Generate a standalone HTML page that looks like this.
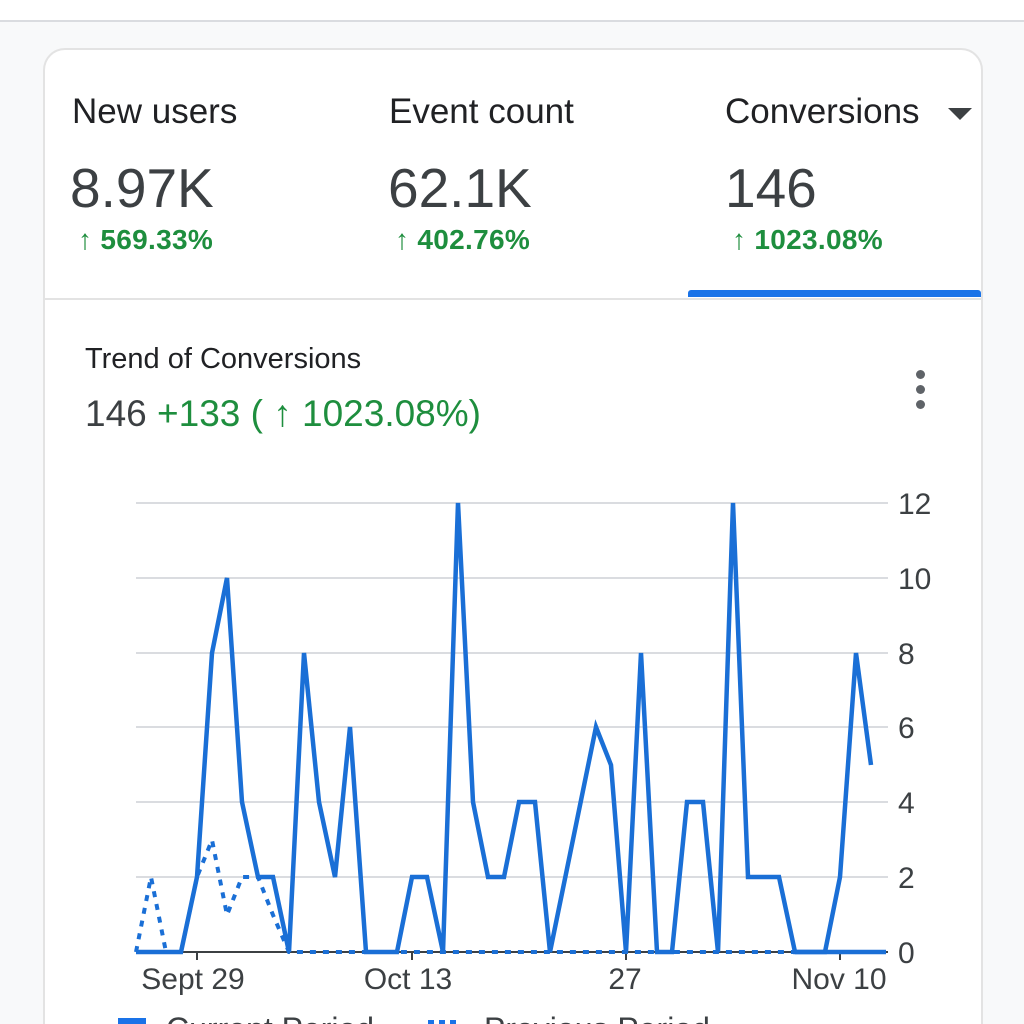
<!DOCTYPE html>
<html><head><meta charset="utf-8"><style>
html,body{margin:0;padding:0;width:1024px;height:1024px;overflow:hidden;background:#f8f9fa;font-family:"Liberation Sans",sans-serif;position:relative;}
.top{position:absolute;left:0;top:0;width:1024px;height:20px;background:#fff;border-bottom:2px solid #dadce0;}
.card{position:absolute;left:43px;top:48px;width:936px;height:976px;background:#fff;border:2px solid #e3e3e3;border-bottom:none;border-radius:22px 22px 0 0;box-sizing:content-box;}
.t{position:absolute;white-space:nowrap;}
.lab{font-size:35px;color:#202124;top:42px;}
.val{font-size:55px;color:#3c4043;top:106px;}
.pct{font-size:28px;color:#1e8e3e;top:174px;font-weight:bold;letter-spacing:0.3px}
</style></head><body>
<div class="top"></div>
<div class="card">
<div class="t lab" style="left:27px">New users</div>
<div class="t lab" style="left:344px">Event count</div>
<div class="t lab" style="left:680px">Conversions</div>
<svg style="position:absolute;left:903px;top:58px" width="24" height="14"><polygon points="0,0 24,0 12,12" fill="#3c4043"/></svg>
<div class="t val" style="left:25px">8.97K</div>
<div class="t val" style="left:343px">62.1K</div>
<div class="t val" style="left:680px">146</div>
<div class="t pct" style="left:33px">↑ 569.33%</div>
<div class="t pct" style="left:350px">↑ 402.76%</div>
<div class="t pct" style="left:687px">↑ 1023.08%</div>
<div style="position:absolute;left:643px;top:240px;width:293px;height:7px;background:#1a73e8;border-radius:3px 3px 0 0"></div>
<div style="position:absolute;left:0;top:248px;width:936px;height:2px;background:#e3e3e3"></div>
<div class="t" style="left:40px;top:293px;font-size:29px;color:#202124">Trend of Conversions</div>
<div class="t" style="left:40px;top:343px;font-size:37px;color:#3c4043">146 <span style="color:#1e8e3e">+133 ( ↑ 1023.08%)</span></div>
<div style="position:absolute;left:871px;top:320px;width:9px;height:9px;border-radius:50%;background:#5f6368;box-shadow:0 15px 0 #5f6368,0 30px 0 #5f6368"></div>
</div>
<svg width="1024" height="1024" style="position:absolute;left:0;top:0">
<g stroke="#dadce0" stroke-width="2">
<line x1="136" x2="888" y1="503" y2="503"/><line x1="136" x2="888" y1="578" y2="578"/><line x1="136" x2="888" y1="653" y2="653"/><line x1="136" x2="888" y1="727" y2="727"/><line x1="136" x2="888" y1="802" y2="802"/><line x1="136" x2="888" y1="877" y2="877"/>
</g>
<line x1="136" x2="888" y1="952" y2="952" stroke="#3c4043" stroke-width="2"/>
<g stroke="#3c4043" stroke-width="2"><line x1="197" x2="197" y1="952" y2="960"/><line x1="412" x2="412" y1="952" y2="960"/><line x1="626" x2="626" y1="952" y2="960"/><line x1="840" x2="840" y1="952" y2="960"/></g>
<g font-family="Liberation Sans,sans-serif" font-size="30" fill="#3c4043">
<text x="898" y="514">12</text><text x="898" y="589">10</text><text x="898" y="664">8</text><text x="898" y="738">6</text><text x="898" y="813">4</text><text x="898" y="888">2</text><text x="898" y="963">0</text>
<text x="193" y="989" text-anchor="middle">Sept 29</text><text x="408" y="989" text-anchor="middle">Oct 13</text><text x="625" y="989" text-anchor="middle">27</text><text x="839" y="989" text-anchor="middle">Nov 10</text>
</g>
<polyline fill="none" stroke="#1a6fd6" stroke-width="4" stroke-dasharray="6,7" points="136,952 151,877 166,952 181,952 197,877 212,840 227,915 242,877 258,877 273,915 289,952 886,952"/>
<polyline fill="none" stroke="#1a6fd6" stroke-width="4.5" points="136,952 181,952 197,877 212,653 227,578 242,802 258,877 273,877 289,952 304,653 319,802 335,877 350,727 366,952 397,952 412,877 427,877 443,952 458,503 473,802 488,877 504,877 519,802 535,802 550,952 596,727 611,765 626,952 641,653 657,952 672,952 687,802 703,802 718,952 733,503 748,877 779,877 795,952 825,952 840,877 856,653 871,765"/>
<line x1="795" x2="886" y1="952" y2="952" stroke="#1a6fd6" stroke-width="4.5"/>
<rect x="118" y="1018" width="28" height="8" fill="#1a73e8"/>
<line x1="428" x2="458" y1="1022" y2="1022" stroke="#1a73e8" stroke-width="4" stroke-dasharray="6,5"/>
<g font-family="Liberation Sans,sans-serif" font-size="32" fill="#3c4043"><text x="166" y="1040">Current Period</text><text x="484" y="1040">Previous Period</text></g>
</svg>
</body></html>
